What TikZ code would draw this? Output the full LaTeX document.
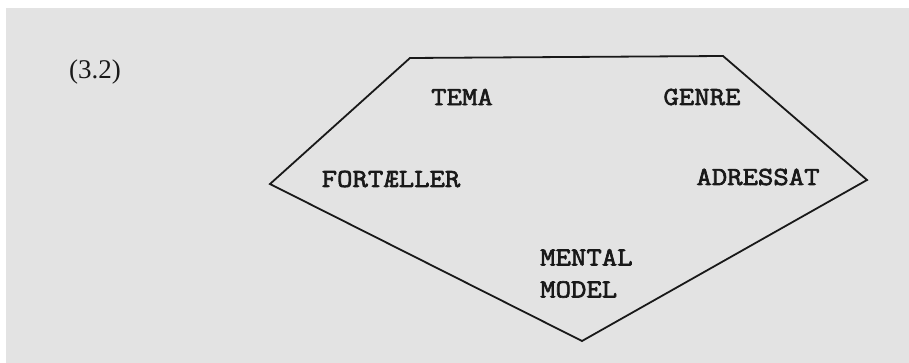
\documentclass[tikz,border=0pt]{standalone}
\usepackage{fontspec}
\setmainfont{Liberation Serif}
\newfontfamily\twfont[FakeStretch=1.15,FakeBold=2.5]{Latin Modern Mono}
\definecolor{paper}{HTML}{E3E3E3}
\begin{document}
\begin{tikzpicture}[x=1pt,y=-1pt,
  lbl/.style={font=\twfont\fontsize{26}{30}\selectfont, inner sep=0pt, text=black!90},
  edge/.style={line width=1.8pt, black!90, line join=miter}]
\useasboundingbox (0,0) rectangle (909,363);
\fill[white] (0,0) rectangle (909,363);
\fill[paper] (6,8) rectangle (909,363);
\coordinate (tl) at (410,58);
\coordinate (tr) at (723,56);
\coordinate (r) at (867,180);
\coordinate (b) at (582,341);
\coordinate (l) at (270,184);
\draw[edge] (tl) -- (tr) -- (r) -- (b) -- (l) -- cycle;
\node[inner sep=0pt, font=\fontsize{27}{30}\selectfont, text=black!90] (num) at (95,72) {(3.2)};
\node[lbl] (tema) at (462,97) {TEMA};
\node[lbl] (genre) at (702,97) {GENRE};
\node[lbl] (fort) at (391,179) {FORTÆLLER};
\node[lbl] (adr) at (758,177) {ADRESSAT};
\node[lbl, align=left, anchor=north west] (mm) at (540,249) {MENTAL\\[2pt]MODEL};
\end{tikzpicture}
\end{document}
